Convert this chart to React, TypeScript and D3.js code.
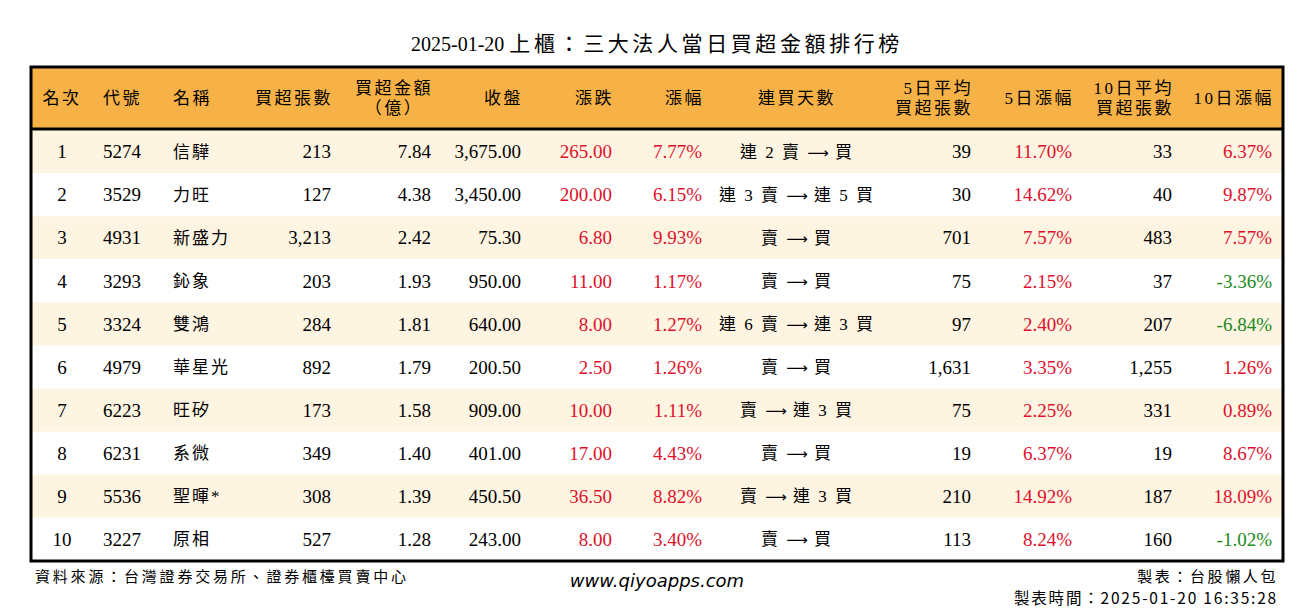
import * as d3 from "d3";
import { useEffect, useRef } from "react";

const ranks = [1, 2, 3, 4, 5, 6, 7, 8, 9, 10];
const codes = ["5274", "3529", "4931", "3293", "3324", "4979", "6223", "6231", "5536", "3227"];
const names = ["信驊", "力旺", "新盛力", "鈊象", "雙鴻", "華星光", "旺矽", "系微", "聖暉*", "原相"];
const netLots = [213, 127, 3213, 203, 284, 892, 173, 349, 308, 527];
const netAmount = [7.84, 4.38, 2.42, 1.93, 1.81, 1.79, 1.58, 1.4, 1.39, 1.28];
const closePrice = [3675, 3450, 75.3, 950, 640, 200.5, 909, 401, 450.5, 243];
const change = [265, 200, 6.8, 11, 8, 2.5, 10, 17, 36.5, 8];
const changePct = [7.77, 6.15, 9.93, 1.17, 1.27, 1.26, 1.11, 4.43, 8.82, 3.4];
const streak = [
  "連 2 賣 → 買", "連 3 賣 → 連 5 買", "賣 → 買", "賣 → 買", "連 6 賣 → 連 3 買",
  "賣 → 買", "賣 → 連 3 買", "賣 → 買", "賣 → 連 3 買", "賣 → 買",
];
const avg5 = [39, 30, 701, 75, 97, 1631, 75, 19, 210, 113];
const pct5 = [11.7, 14.62, 7.57, 2.15, 2.4, 3.35, 2.25, 6.37, 14.92, 8.24];
const avg10 = [33, 40, 483, 37, 207, 1255, 331, 19, 187, 160];
const pct10 = [6.37, 9.87, 7.57, -3.36, -6.84, 1.26, 0.89, 8.67, 18.09, -1.02];

const headers = [
  ["名次"], ["代號"], ["名稱"], ["買超張數"], ["買超金額", "（億）"], ["收盤"], ["漲跌"], ["漲幅"],
  ["連買天數"], ["5日平均", "買超張數"], ["5日漲幅"], ["10日平均", "買超張數"], ["10日漲幅"],
];

const FONT = "'Liberation Serif', 'Times New Roman', 'Noto Sans CJK TC', serif";
const RED = "#e0102a";
const GREEN = "#1a8a1a";

export default function App() {
  const ref = useRef<SVGSVGElement>(null);

  useEffect(() => {
    const width = 1314;
    const height = 612;
    const svg = d3.select(ref.current);
    svg.selectAll("*").remove();
    svg.attr("width", width).attr("height", height);

    const left = 31;
    const right = 1283;
    const headTop = 67;
    const headBottom = 129;

    const y = d3.scaleBand<number>()
      .domain(ranks)
      .range([headBottom + 1, 561]);

    const locale = d3.formatLocale({ decimal: ".", thousands: ",", grouping: [3], currency: ["", ""], minus: "-" });
    const fmtInt = locale.format(",d");
    const fmt2 = locale.format(",.2f");
    const fmtPct = (v: number) => locale.format(".2f")(v) + "%";
    const pctColor = (v: number) => (v < 0 ? GREEN : RED);

    // title
    const title = svg.append("text")
      .attr("x", 657).attr("y", 51)
      .attr("text-anchor", "middle")
      .attr("font-family", FONT)
      .attr("fill", "#000");
    title.append("tspan").attr("font-size", 20).text("2025-01-20 ");
    title.append("tspan").attr("font-size", 21).attr("letter-spacing", 3.6)
      .text("上櫃：三大法人當日買超金額排行榜");

    // header background
    svg.append("rect")
      .attr("x", left).attr("y", headTop)
      .attr("width", right - left).attr("height", headBottom - headTop)
      .attr("fill", "#f7b247");

    // row backgrounds
    svg.selectAll("rect.row")
      .data(ranks)
      .join("rect")
      .attr("class", "row")
      .attr("x", left).attr("y", d => y(d)!)
      .attr("width", right - left).attr("height", y.bandwidth())
      .attr("fill", (d, i) => (i % 2 === 0 ? "#fef4e2" : "#ffffff"));

    const cols: { x: number; anchor: string; cells: string[]; colors?: string[] }[] = [
      { x: 62, anchor: "middle", cells: ranks.map(String) },
      { x: 103, anchor: "start", cells: codes },
      { x: 173, anchor: "start", cells: names },
      { x: 331, anchor: "end", cells: netLots.map(fmtInt) },
      { x: 431, anchor: "end", cells: netAmount.map(fmt2) },
      { x: 521, anchor: "end", cells: closePrice.map(fmt2) },
      { x: 612, anchor: "end", cells: change.map(fmt2), colors: change.map(pctColor) },
      { x: 702, anchor: "end", cells: changePct.map(fmtPct), colors: changePct.map(pctColor) },
      { x: 797, anchor: "middle", cells: streak },
      { x: 971, anchor: "end", cells: avg5.map(fmtInt) },
      { x: 1072, anchor: "end", cells: pct5.map(fmtPct), colors: pct5.map(pctColor) },
      { x: 1172, anchor: "end", cells: avg10.map(fmtInt) },
      { x: 1272, anchor: "end", cells: pct10.map(fmtPct), colors: pct10.map(pctColor) },
    ];

    const headerG = svg.append("g")
      .attr("font-family", FONT).attr("font-size", 17)
      .attr("letter-spacing", 2.5).attr("fill", "#000");

    cols.forEach((c, ci) => {
      const lines = headers[ci];
      const mid = (headTop + headBottom) / 2;
      lines.forEach((ln, li) => {
        const yy = lines.length === 1 ? mid : mid + (li === 0 ? -10 : 10);
        let anchor = c.anchor;
        let x = c.x;
        if (ci === 4 && li === 1) { anchor = "middle"; x = 394; }
        headerG.append("text")
          .attr("x", anchor === "end" ? x + 2 : x)
          .attr("y", yy)
          .attr("dy", "0.36em")
          .attr("text-anchor", anchor)
          .text(ln);
      });

      const isCjk = ci === 2 || ci === 8;
      const texts = svg.append("g")
        .attr("font-family", FONT)
        .selectAll("text")
        .data(c.cells)
        .join("text")
        .attr("x", c.x)
        .attr("y", (d, i) => y(ranks[i])! + y.bandwidth() / 2)
        .attr("dy", "0.35em")
        .attr("text-anchor", c.anchor)
        .attr("letter-spacing", isCjk ? 2 : 0)
        .attr("font-size", isCjk ? 17 : 19)
        .attr("fill", (d, i) => (c.colors ? c.colors[i] : "#000"));

      if (ci === 8) {
        // streak text: arrow drawn in a wider glyph
        texts.each(function (d) {
          const t = d3.select(this);
          const parts = d.split("→");
          parts.forEach((p, pi) => {
            t.append("tspan").text(p);
            if (pi < parts.length - 1) {
              t.append("tspan")
                .attr("font-family", "'DejaVu Sans', sans-serif")
                .attr("letter-spacing", 0)
                .attr("font-size", 15)
                .text("⟶");
            }
          });
        });
      } else {
        texts.text(d => d);
      }
    });

    // header bottom line
    svg.append("line")
      .attr("x1", left).attr("x2", right)
      .attr("y1", headBottom).attr("y2", headBottom)
      .attr("stroke", "#000").attr("stroke-width", 3);

    // outer border
    svg.append("rect")
      .attr("x", left).attr("y", headTop)
      .attr("width", right - left).attr("height", 561 - headTop)
      .attr("fill", "none")
      .attr("stroke", "#000").attr("stroke-width", 3);

    // footer
    svg.append("text")
      .attr("x", 35).attr("y", 582)
      .attr("font-family", FONT).attr("font-size", 15)
      .attr("letter-spacing", 2.8)
      .text("資料來源：台灣證券交易所、證券櫃檯買賣中心");

    svg.append("text")
      .attr("x", 657).attr("y", 587)
      .attr("text-anchor", "middle")
      .attr("font-family", "'DejaVu Sans', Verdana, sans-serif")
      .attr("font-style", "italic").attr("font-size", 18)
      .text("www.qiyoapps.com");

    svg.append("text")
      .attr("x", 1278).attr("y", 582)
      .attr("text-anchor", "end")
      .attr("font-family", "'Noto Sans CJK TC', sans-serif")
      .attr("font-size", 15).attr("letter-spacing", 2.6)
      .text("製表：台股懶人包");

    svg.append("text")
      .attr("x", 1278).attr("y", 604)
      .attr("text-anchor", "end")
      .attr("font-family", "'Noto Sans CJK TC', sans-serif")
      .attr("font-size", 15.5).attr("letter-spacing", 1.8)
      .text("製表時間：2025-01-20 16:35:28");
  }, []);

  return (
    <svg
      ref={ref}
      style={{ position: "absolute", left: 0, top: 0, background: "#fff" }}
    />
  );
}
